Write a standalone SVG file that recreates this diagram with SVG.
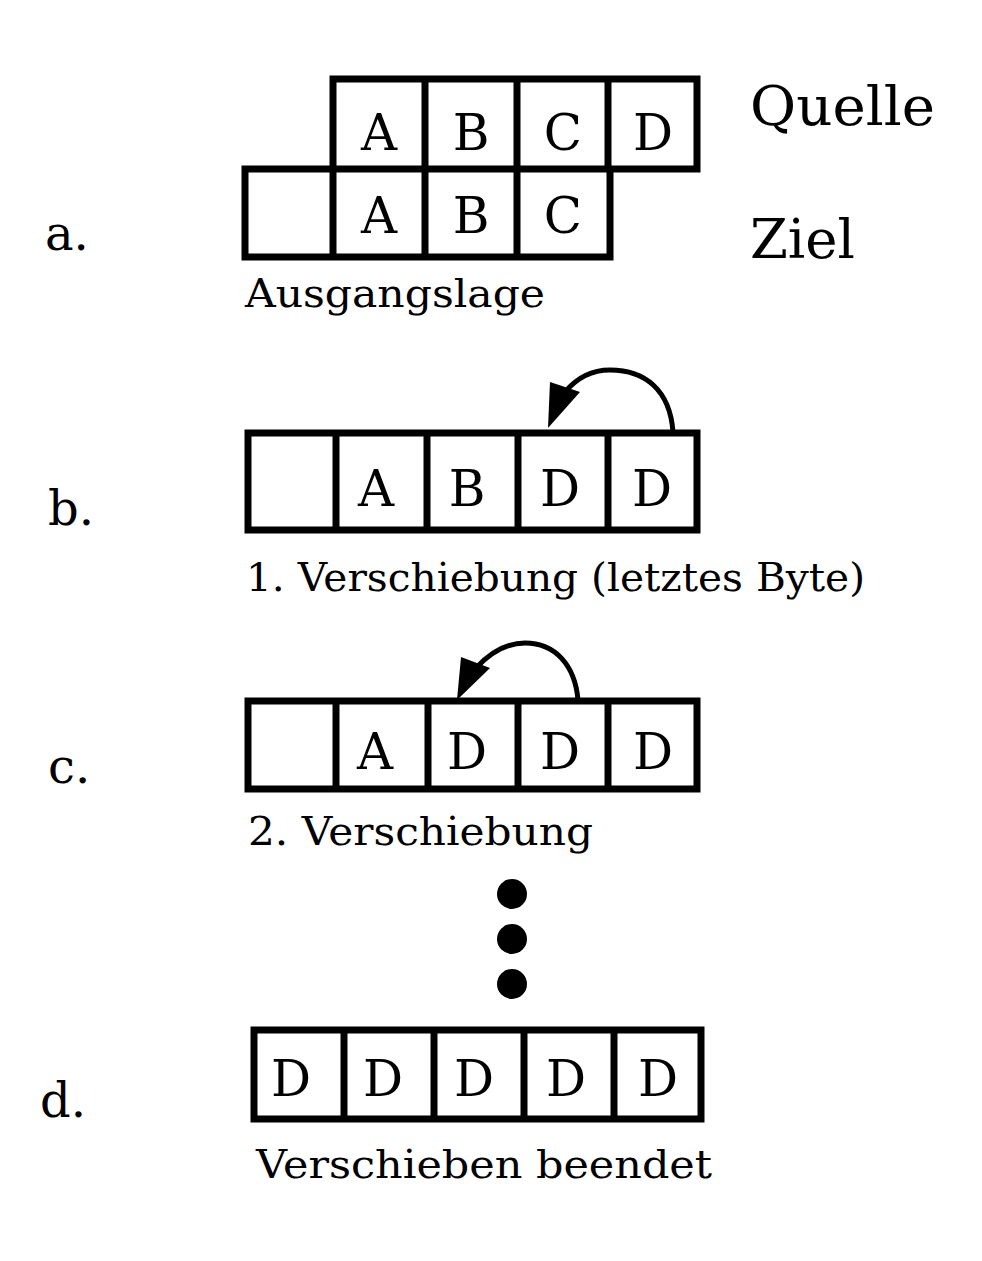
<svg xmlns="http://www.w3.org/2000/svg" width="982" height="1261" viewBox="0 0 982 1261">
<style>
.b{fill:none;stroke:#000;stroke-width:7}
.c{font-family:"DejaVu Serif",serif;font-size:50px;text-anchor:middle}
.l{font-family:"DejaVu Serif",serif;font-size:48px}
.q{font-family:"DejaVu Serif",serif;font-size:54px}
.t{font-family:"DejaVu Serif",serif;font-size:39px}
.a{fill:none;stroke:#000;stroke-width:5}
</style>
<rect width="982" height="1261" fill="#fff"/>
<g id="labels">
<text class="l" x="45" y="250">a.</text>
<text class="l" x="48" y="525">b.</text>
<text class="l" x="48" y="783">c.</text>
<text class="l" x="40" y="1117">d.</text>
<text class="q" x="750" y="125" textLength="185" lengthAdjust="spacingAndGlyphs">Quelle</text>
<text class="q" x="750" y="258" textLength="105" lengthAdjust="spacingAndGlyphs">Ziel</text>
</g>
<g id="a">
<path class="b" d="M333 79H697V169H333Z M425 79V257 M517 79V257 M608 79V169 M245 169H610V257H245Z M333 169V257"/>
<text class="c" x="379" y="150">A</text><text class="c" x="471" y="150">B</text><text class="c" x="563" y="150">C</text><text class="c" x="653" y="150">D</text>
<text class="c" x="379" y="233">A</text><text class="c" x="471" y="233">B</text><text class="c" x="563" y="233">C</text>
<text class="t" x="245" y="307" textLength="300" lengthAdjust="spacingAndGlyphs">Ausgangslage</text>
</g>
<g id="b">
<path class="b" d="M248 433H697V530H248Z M336 433V530 M427 433V530 M518 433V530 M608 433V530"/>
<text class="c" x="376" y="506">A</text><text class="c" x="467" y="506">B</text><text class="c" x="560" y="506">D</text><text class="c" x="652" y="506">D</text>
<text class="t" x="246" y="591" textLength="619" lengthAdjust="spacingAndGlyphs">1. Verschiebung (letztes Byte)</text>
</g>
<g id="c">
<path class="b" d="M248 701H697V789H248Z M336 701V789 M428 701V789 M518 701V789 M608 701V789"/>
<text class="c" x="375" y="769">A</text><text class="c" x="467" y="769">D</text><text class="c" x="560" y="769">D</text><text class="c" x="653" y="769">D</text>
<text class="t" x="248" y="845" textLength="345" lengthAdjust="spacingAndGlyphs">2. Verschiebung</text>
</g>
<g id="dots"><circle cx="512" cy="894" r="15"/><circle cx="512" cy="939" r="15"/><circle cx="512" cy="984" r="15"/></g>
<g id="d">
<path class="b" d="M254 1030H701V1119H254Z M344 1030V1119 M434 1030V1119 M524 1030V1119 M614 1030V1119"/>
<text class="c" x="291" y="1096">D</text><text class="c" x="383" y="1096">D</text><text class="c" x="474" y="1096">D</text><text class="c" x="566" y="1096">D</text><text class="c" x="658" y="1096">D</text>
<text class="t" x="256" y="1178" textLength="456" lengthAdjust="spacingAndGlyphs">Verschieben beendet</text>
</g>
<g id="connectors">
<path class="a" d="M673 432C670 390 645 370 610 370C590 370 575 380 565 392"/>
<polygon points="548,428 550,382 580,392"/>
<path class="a" d="M578 700C575 665 555 643 525 643C505 643 488 655 476 668"/>
<polygon points="457,700 461,657 490,668"/>
</g>
</svg>
